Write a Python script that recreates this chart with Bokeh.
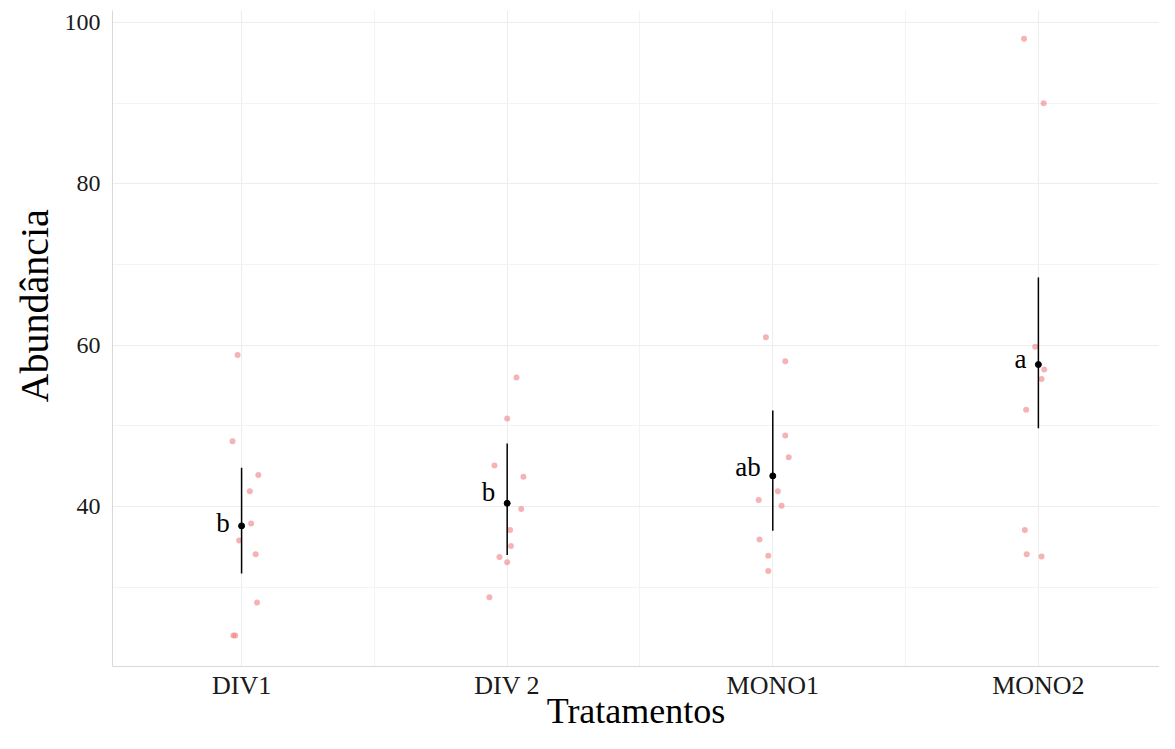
from bokeh.plotting import figure
from bokeh.models import ColumnDataSource, FixedTicker, Range1d, Title
from bokeh.core.properties import value
from bokeh.embed import file_html
from bokeh.resources import INLINE

categories = ["DIV1", "DIV 2", "MONO1", "MONO2"]

div1_vals = [58.8, 48.1, 43.9, 41.9, 37.9, 35.8, 34.1, 28.1, 24.0, 24.0]
div1_jit = [-0.015, -0.034, 0.063, 0.031, 0.036, -0.009, 0.053, 0.058, -0.024, -0.031]
div2_vals = [56.0, 50.9, 45.1, 43.7, 39.7, 37.1, 35.1, 33.75, 33.1, 28.75]
div2_jit = [0.035, 0.0, -0.048, 0.061, 0.053, 0.011, 0.014, -0.029, 0.0, -0.067]
mono1_vals = [61.0, 58.0, 48.8, 46.1, 41.9, 40.8, 40.1, 35.9, 33.9, 32.0]
mono1_jit = [-0.026, 0.047, 0.047, 0.060, 0.019, -0.053, 0.033, -0.050, -0.017, -0.017]
mono2_vals = [98.0, 90.0, 59.8, 57.0, 55.8, 52.0, 37.1, 34.1, 33.8]
mono2_jit = [-0.054, 0.020, -0.012, 0.022, 0.012, -0.046, -0.051, -0.044, 0.012]

means = [37.6, 40.4, 43.8, 57.6]
lower = [31.7, 34.0, 37.0, 49.7]
upper = [44.8, 47.8, 51.9, 68.4]
letters = ["b", "b", "ab", "a"]
letter_y = [37.9, 41.8, 44.9, 58.3]

FONT = "Liberation Serif"

groups = [(div1_vals, div1_jit), (div2_vals, div2_jit), (mono1_vals, mono1_jit), (mono2_vals, mono2_jit)]
px, py = [], []
for i, (vals, jit) in enumerate(groups):
    for v, j in zip(vals, jit):
        px.append(i + 1 + j)
        py.append(v)
pts = ColumnDataSource(dict(x=px, y=py))

pos = [i + 1 for i in range(len(categories))]
summ = ColumnDataSource(dict(x=pos, m=means, lo=lower, hi=upper,
                             lx=[q - 0.045 for q in pos], ly=letter_y, t=letters))

p = figure(width=1159, height=733, output_backend="svg", toolbar_location=None,
           x_range=Range1d(0.514, 4.456), y_range=Range1d(20.17, 101.49),
           min_border_left=112, min_border_right=0, min_border_top=10, min_border_bottom=66)
p.background_fill_color = "white"
p.border_fill_color = "white"
p.outline_line_color = None

p.scatter("x", "y", source=pts, size=6, color="#F08080", alpha=0.6, line_color=None)
p.segment(x0="x", y0="lo", x1="x", y1="hi", source=summ, line_color="black", line_width=1.5)
p.scatter("x", "m", source=summ, size=6, color="black")
p.text("lx", "ly", text="t", source=summ, text_align="right", text_baseline="middle",
       text_font=value(FONT), text_font_size="27px", text_color="black")

p.xaxis.ticker = FixedTicker(ticks=pos, minor_ticks=[1.5, 2.5, 3.5])
p.xaxis.major_label_overrides = {i + 1: c for i, c in enumerate(categories)}
p.yaxis.ticker = FixedTicker(ticks=[40, 60, 80, 100], minor_ticks=[30, 50, 70, 90])

for ax in (p.xaxis, p.yaxis):
    ax.major_tick_line_color = None
    ax.minor_tick_line_color = None
    ax.axis_line_color = "#D9D9D9"
    ax.major_label_text_font = FONT
    ax.major_label_text_color = "#1a1a1a"
p.xaxis.major_label_text_font_size = "26px"
p.yaxis.major_label_text_font_size = "24px"
p.xaxis.major_label_standoff = -2
p.yaxis.major_label_standoff = 6

p.xaxis.axis_label = "Tratamentos"
p.xaxis.axis_label_text_font = FONT
p.xaxis.axis_label_text_font_size = "36px"
p.xaxis.axis_label_text_font_style = "normal"
p.xaxis.axis_label_text_color = "black"
p.xaxis.axis_label_standoff = -12

ytitle = Title(text="Abundância", align="left", offset=264, standoff=10,
               text_font=FONT, text_font_size="40px", text_font_style="normal",
               text_color="black")
p.add_layout(ytitle, "left")

p.xgrid.grid_line_color = "#EDEDED"
p.ygrid.grid_line_color = "#EDEDED"
p.xgrid.minor_grid_line_color = "#F3F3F3"
p.ygrid.minor_grid_line_color = "#F3F3F3"

open("out.html", "w").write(file_html(p, INLINE))
